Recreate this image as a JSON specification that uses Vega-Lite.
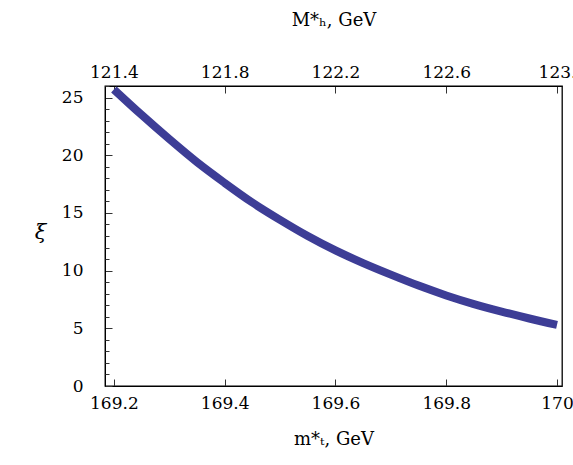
{
  "$schema": "https://vega.github.io/schema/vega-lite/v6.json",
  "width": 457,
  "height": 300,
  "autosize": {"type": "none"},
  "padding": {"left": 105, "top": 86, "right": 11, "bottom": 79},
  "background": "white",
  "config": {
    "view": {"stroke": "black", "strokeWidth": 1.3},
    "font": "DejaVu Serif",
    "axis": {
      "labelFont": "DejaVu Serif",
      "titleFont": "DejaVu Serif",
      "labelFontSize": 17,
      "titleFontSize": 18,
      "titleFontWeight": "normal",
      "labelColor": "black",
      "titleColor": "black",
      "tickColor": "#333",
      "domainColor": "black",
      "grid": false
    }
  },
  "datasets": {
    "curve": [
      {"mt": 169.2, "xi": 25.7},
      {"mt": 169.25, "xi": 23.5},
      {"mt": 169.3, "xi": 21.4},
      {"mt": 169.35, "xi": 19.4},
      {"mt": 169.4, "xi": 17.6},
      {"mt": 169.45, "xi": 15.9},
      {"mt": 169.5, "xi": 14.4},
      {"mt": 169.55, "xi": 13.0},
      {"mt": 169.6, "xi": 11.75},
      {"mt": 169.65, "xi": 10.65},
      {"mt": 169.7, "xi": 9.65},
      {"mt": 169.75, "xi": 8.7},
      {"mt": 169.8, "xi": 7.85},
      {"mt": 169.85, "xi": 7.1},
      {"mt": 169.9, "xi": 6.45},
      {"mt": 169.95, "xi": 5.85},
      {"mt": 170.0, "xi": 5.3}
    ],
    "top": [
      {"M": 121.4}, {"M": 121.8}, {"M": 122.2}, {"M": 122.6}, {"M": 123.0}
    ],
    "minor": [
      {"v": 0}, {"v": 26}
    ]
  },
  "layer": [
    {
      "data": {"name": "curve"},
      "mark": {"type": "line", "color": "#3d3d96", "strokeWidth": 8, "strokeCap": "butt", "interpolate": "monotone"},
      "encoding": {
        "x": {
          "field": "mt", "type": "quantitative",
          "scale": {"domain": [169.184, 170.009], "nice": false, "zero": false},
          "axis": {
            "orient": "bottom",
            "values": [169.2, 169.4, 169.6, 169.8, 170],
            "labelExpr": "datum.value == 170 ? '170' : format(datum.value, '.1f')",
            "tickSize": -7,
            "labelPadding": 16,
            "title": "m*ₜ, GeV",
            "titlePadding": 19
          }
        },
        "y": {
          "field": "xi", "type": "quantitative",
          "scale": {"domain": [0, 26], "nice": false},
          "axis": {
            "orient": "left",
            "values": [0, 5, 10, 15, 20, 25],
            "tickSize": -7,
            "labelPadding": 29,
            "title": "ξ",
            "titleAngle": 0,
            "titleFontStyle": "italic",
            "titleFontSize": 21,
            "titleX": -65,
            "titleY": 146,
            "titleAlign": "center",
            "titleBaseline": "middle"
          }
        }
      }
    },
    {
      "data": {"name": "minor"},
      "mark": {"type": "rule", "opacity": 0},
      "encoding": {
        "y": {
          "field": "v", "type": "quantitative",
          "scale": {"domain": [0, 26], "nice": false},
          "axis": {
            "orient": "left",
            "values": [1,2,3,4,6,7,8,9,11,12,13,14,16,17,18,19,21,22,23,24,26],
            "tickSize": -4,
            "labels": false,
            "domain": false,
            "title": null
          }
        }
      }
    },
    {
      "data": {"name": "top"},
      "mark": {"type": "rule", "opacity": 0},
      "encoding": {
        "x": {
          "field": "M", "type": "quantitative",
          "scale": {"domain": [121.368, 123.018], "nice": false, "zero": false},
          "axis": {
            "orient": "top",
            "values": [121.4, 121.8, 122.2, 122.6, 123],
            "labelExpr": "datum.value == 123 ? '123.' : format(datum.value, '.1f')",
            "tickSize": -7,
            "labelPadding": 12,
            "title": "M*ₕ, GeV",
            "titlePadding": 34
          }
        }
      }
    }
  ],
  "resolve": {
    "scale": {"x": "independent", "y": "independent"},
    "axis": {"x": "independent", "y": "independent"}
  }
}
